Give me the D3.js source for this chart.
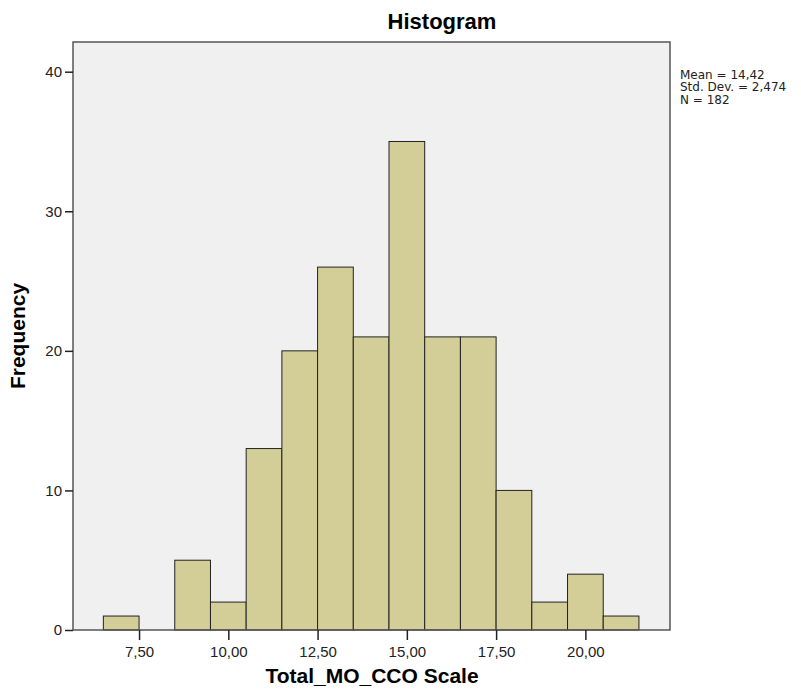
<!DOCTYPE html>
<html>
<head>
<meta charset="utf-8">
<script src="https://cdn.jsdelivr.net/npm/d3@7"></script>
<style>
body { margin: 0; background: #fff; }
text { font-family: "Liberation Sans", Arial, sans-serif; }
text.stats { font-family: "DejaVu Sans", sans-serif; }
</style>
</head>
<body>
<script>
// bin centres (width 1) and counts
var binCentres = [7, 8, 9, 10, 11, 12, 13, 14, 15, 16, 17, 18, 19, 20, 21];
var counts = [1, 0, 5, 2, 13, 20, 26, 21, 35, 21, 21, 10, 2, 4, 1];
var xTicks = [7.5, 10, 12.5, 15, 17.5, 20];
var yTicks = [0, 10, 20, 30, 40];
var statsLines = ["Mean = 14,42", "Std. Dev. = 2,474", "N = 182"];

var W = 801, H = 696;
// note: "top" is taken by window.top, so use plot* names
var plotL = 73, plotT = 42, plotR = 670, plotB = 630;

var svg = d3.select("body").append("svg")
    .attr("width", W)
    .attr("height", H);

var x = d3.scaleLinear().domain([5.65, 22.37]).range([plotL, plotR]);
var y = d3.scaleLinear().domain([0, 40]).range([plotB, 71.7]);
var fmt = function(d) { return d3.format(".2f")(d).replace(".", ","); };

// plot background
svg.append("rect")
    .attr("x", plotL).attr("y", plotT)
    .attr("width", plotR - plotL).attr("height", plotB - plotT)
    .attr("fill", "#f0f0f0");

// bars
svg.selectAll("rect.bar")
    .data(binCentres.map(function(c, i) { return {c: c, n: counts[i]}; }).filter(function(d) { return d.n > 0; }))
    .enter().append("rect")
    .attr("class", "bar")
    .attr("x", function(d) { return x(d.c - 0.5); })
    .attr("width", function(d) { return x(d.c + 0.5) - x(d.c - 0.5); })
    .attr("y", function(d) { return y(d.n); })
    .attr("height", function(d) { return y(0) - y(d.n); })
    .attr("fill", "#d3ce97")
    .attr("stroke", "#222")
    .attr("stroke-width", 1);

// frame
svg.append("rect")
    .attr("x", plotL).attr("y", plotT)
    .attr("width", plotR - plotL).attr("height", plotB - plotT)
    .attr("fill", "none")
    .attr("stroke", "#555")
    .attr("stroke-width", 1.5);

// axes
var yAxis = svg.append("g")
    .attr("transform", "translate(" + plotL + ",0)")
    .call(d3.axisLeft(y).tickValues(yTicks).tickSize(8).tickPadding(3).tickSizeOuter(0));
yAxis.select(".domain").remove();
yAxis.selectAll("line").attr("stroke", "#222").attr("stroke-width", 1.5);
yAxis.selectAll("text").attr("font-size", 15).attr("fill", "#222");

var xAxis = svg.append("g")
    .attr("transform", "translate(0," + plotB + ")")
    .call(d3.axisBottom(x).tickValues(xTicks).tickFormat(fmt).tickSize(10).tickPadding(3).tickSizeOuter(0));
xAxis.select(".domain").remove();
xAxis.selectAll("line").attr("stroke", "#222").attr("stroke-width", 1.5);
xAxis.selectAll("text").attr("font-size", 15).attr("fill", "#222").attr("dy", "0.9em");

// titles
svg.append("text")
    .attr("x", 442).attr("y", 29)
    .attr("text-anchor", "middle")
    .attr("font-size", 22).attr("font-weight", "bold")
    .text("Histogram");

svg.append("text")
    .attr("x", 372).attr("y", 683)
    .attr("text-anchor", "middle")
    .attr("font-size", 21).attr("font-weight", "bold")
    .text("Total_MO_CCO Scale");

svg.append("text")
    .attr("transform", "translate(25,336) rotate(-90)")
    .attr("text-anchor", "middle")
    .attr("font-size", 21).attr("font-weight", "bold")
    .text("Frequency");

// stats text, right of the plot
svg.append("g").selectAll("text")
    .data(statsLines)
    .enter().append("text")
    .attr("class", "stats")
    .attr("x", 680)
    .attr("y", function(d, i) { return 78.5 + i * 12.7; })
    .attr("font-size", 12)
    .attr("fill", "#222")
    .text(function(d) { return d; });
</script>
</body>
</html>
